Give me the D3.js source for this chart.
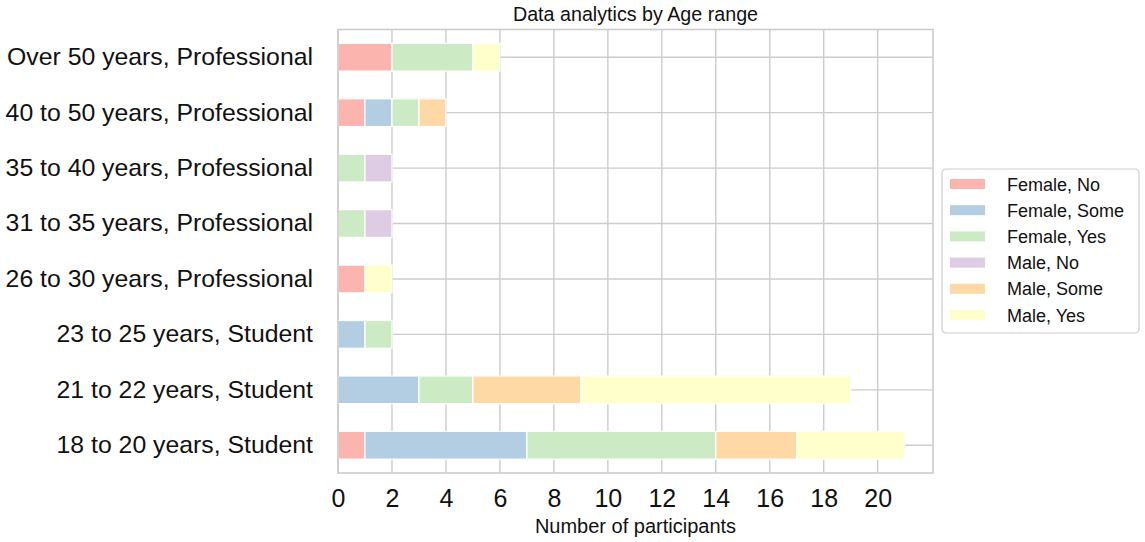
<!DOCTYPE html>
<html>
<head>
<meta charset="utf-8">
<script src="https://cdn.jsdelivr.net/npm/d3@7"></script>
<style>
  body { margin: 0; background: #fff; }
  text { font-family: "Liberation Sans", Arial, sans-serif; fill: #111; }
</style>
</head>
<body>
<div id="chart"></div>
<script>
// categories, bottom to top
var ageGroups = ["18 to 20 years, Student", "21 to 22 years, Student", "23 to 25 years, Student",
  "26 to 30 years, Professional", "31 to 35 years, Professional", "35 to 40 years, Professional",
  "40 to 50 years, Professional", "Over 50 years, Professional"];
var seriesNames = ["Female, No", "Female, Some", "Female, Yes", "Male, No", "Male, Some", "Male, Yes"];
var seriesColors = ["#fbb4ae", "#b3cde3", "#ccebc5", "#decbe4", "#fed9a6", "#ffffcc"];

// counts per series, same order as ageGroups
var femaleNo   = [1, 0, 0, 1, 0, 0, 1, 2];
var femaleSome = [6, 3, 1, 0, 0, 0, 1, 0];
var femaleYes  = [7, 2, 1, 0, 1, 1, 1, 3];
var maleNo     = [0, 0, 0, 0, 1, 1, 0, 0];
var maleSome   = [3, 4, 0, 0, 0, 0, 1, 0];
var maleYes    = [4, 10, 0, 1, 0, 0, 0, 1];
var xTicks = [0, 2, 4, 6, 8, 10, 12, 14, 16, 18, 20];

var seriesValues = [femaleNo, femaleSome, femaleYes, maleNo, maleSome, maleYes];

var W = 1145, H = 542;
var margin = {top: 29.5, left: 338, right: 212, bottom: 69};
var width = W - margin.left - margin.right,
    height = H - margin.top - margin.bottom;

var rows = ageGroups.map(function(a, i){
  var r = {group: a};
  seriesNames.forEach(function(s, j){ r[s] = seriesValues[j][i]; });
  return r;
});

var stacked = d3.stack().keys(seriesNames)(rows);
var maxTotal = d3.max(rows, function(r){ return d3.sum(seriesNames, function(s){ return r[s]; }); });

var x = d3.scaleLinear().domain([0, maxTotal * 1.05]).range([0, width]);
var y = d3.scaleBand().domain(ageGroups.slice().reverse()).range([0, height])
  .paddingInner(0.5).paddingOuter(0.25);
var color = d3.scaleOrdinal().domain(seriesNames).range(seriesColors);

var svg = d3.select("#chart").append("svg")
  .attr("width", W).attr("height", H);
var g = svg.append("g").attr("transform", "translate(" + margin.left + "," + margin.top + ")");

// grid
g.selectAll(".vgrid").data(xTicks).enter().append("line")
  .attr("x1", function(d){ return x(d); }).attr("x2", function(d){ return x(d); })
  .attr("y1", 0).attr("y2", height)
  .attr("stroke", "#cccccc").attr("stroke-width", 1.4);
g.selectAll(".hgrid").data(ageGroups).enter().append("line")
  .attr("x1", 0).attr("x2", width)
  .attr("y1", function(d){ return y(d) + y.bandwidth() / 2; })
  .attr("y2", function(d){ return y(d) + y.bandwidth() / 2; })
  .attr("stroke", "#cccccc").attr("stroke-width", 1.4);

// bars
g.selectAll(".series").data(stacked).enter().append("g")
  .attr("fill", function(d){ return color(d.key); })
  .selectAll("rect").data(function(d){ return d; }).enter().append("rect")
  .filter(function(d){ return d[1] > d[0]; })
  .attr("x", function(d){ return x(d[0]); })
  .attr("width", function(d){ return x(d[1]) - x(d[0]); })
  .attr("y", function(d){ return y(d.data.group); })
  .attr("height", y.bandwidth())
  .attr("stroke", "#fff").attr("stroke-width", 1.2);

// frame
g.append("rect").attr("width", width).attr("height", height)
  .attr("fill", "none").attr("stroke", "#cccccc").attr("stroke-width", 1.6);

// axes
var xAxis = g.append("g").attr("transform", "translate(0," + height + ")")
  .call(d3.axisBottom(x).tickValues(xTicks).tickSize(0).tickPadding(16));
xAxis.select(".domain").remove();
xAxis.selectAll("text").style("font-size", "25px").attr("fill", "#111")
  .style("font-family", "'Liberation Sans', Arial, sans-serif");

var yAxis = g.append("g")
  .call(d3.axisLeft(y).tickSize(0).tickPadding(25));
yAxis.select(".domain").remove();
yAxis.selectAll("text").style("font-size", "24.8px").attr("fill", "#111")
  .style("font-family", "'Liberation Sans', Arial, sans-serif");

// title & label
svg.append("text").attr("x", margin.left + width / 2).attr("y", 21)
  .attr("text-anchor", "middle").style("font-size", "19.7px").text("Data analytics by Age range");
svg.append("text").attr("x", margin.left + width / 2).attr("y", 533)
  .attr("text-anchor", "middle").style("font-size", "20px").text("Number of participants");

// legend
var lg = svg.append("g").attr("transform", "translate(942,169)");
lg.append("rect").attr("width", 197).attr("height", 164).attr("rx", 4)
  .attr("fill", "#fff").attr("stroke", "#cccccc").attr("stroke-width", 1.2);
var items = lg.selectAll(".item").data(seriesNames).enter().append("g")
  .attr("transform", function(d, i){ return "translate(0," + (15 + i * 26.2) + ")"; });
items.append("rect").attr("x", 8).attr("y", -5).attr("width", 35).attr("height", 10)
  .attr("fill", function(d){ return color(d); });
items.append("text").attr("x", 65).attr("y", 6.5).style("font-size", "18px")
  .text(function(d){ return d; });
</script>
</body>
</html>
